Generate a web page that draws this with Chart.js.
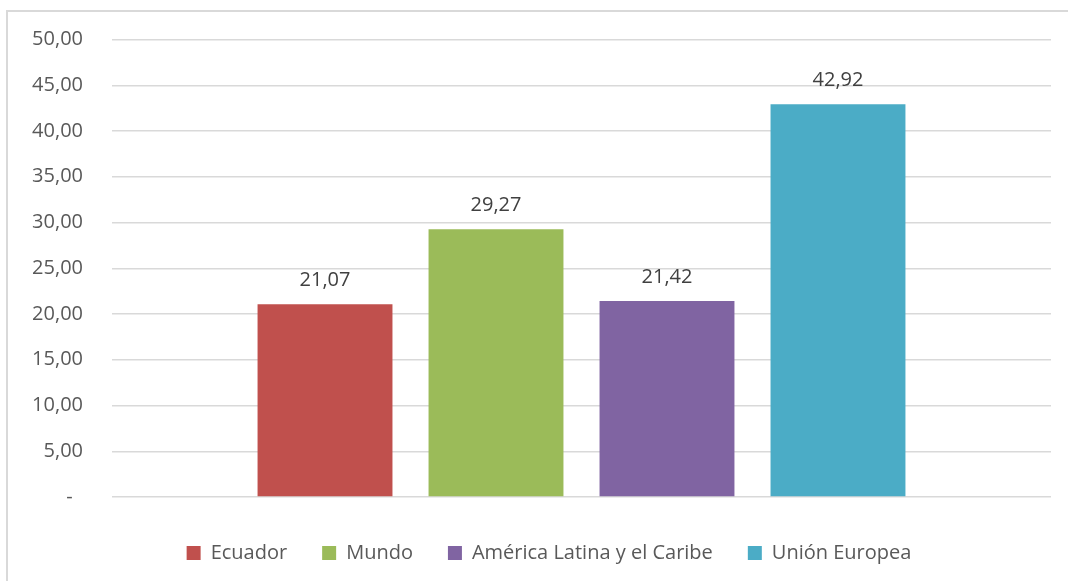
<!DOCTYPE html>
<html>
<head>
<meta charset="utf-8">
<script src="https://cdn.jsdelivr.net/npm/chart.js@4/dist/chart.umd.min.js"></script>
<style>
  html, body { margin: 0; padding: 0; background: #fff; overflow: hidden; width: 1068px; height: 581px; }
  #frame { position: absolute; left: 6px; top: 10px; width: 1086px; height: 600px;
           border-left: 2px solid #d9d9d9; border-top: 2px solid #d9d9d9; }
  #wrap { position: absolute; left: 0; top: 0; width: 1084px; height: 569px; }
</style>
</head>
<body>
<div id="frame"><div id="wrap"><canvas id="chart"></canvas></div></div>
<script>
// data
const categories = [''];
const seriesNames = ['Ecuador', 'Mundo', 'América Latina y el Caribe', 'Unión Europea'];
const seriesValues = [21.07, 29.27, 21.42, 42.92];
const seriesColors = ['#C0504D', '#9BBB59', '#8064A2', '#4BACC6'];

const FONT = '"Open Sans", sans-serif';

function fmt(v) {
    return v.toFixed(2).replace('.', ',');
}

// labels above each bar
const valueLabels = {
    id: 'valueLabels',
    afterDatasetsDraw(chart) {
        const ctx = chart.ctx;
        ctx.save();
        ctx.font = '20px ' + FONT;
        ctx.fillStyle = '#404040';
        ctx.textAlign = 'center';
        ctx.textBaseline = 'alphabetic';
        chart.data.datasets.forEach((ds, i) => {
            chart.getDatasetMeta(i).data.forEach((bar, j) => {
                ctx.fillText(fmt(ds.data[j]), bar.x, bar.y - 18);
            });
        });
        ctx.restore();
    }
};

new Chart(document.getElementById('chart'), {
    type: 'bar',
    data: {
        labels: categories,
        datasets: seriesNames.map((name, i) => ({
            label: name,
            data: [seriesValues[i]],
            backgroundColor: seriesColors[i],
            borderWidth: 0,
            categoryPercentage: 0.7284,
            barPercentage: 0.789
        }))
    },
    options: {
        responsive: true,
        maintainAspectRatio: false,
        animation: false,
        layout: { padding: { left: 0, right: 2, top: 27.5, bottom: 8 } },
        plugins: {
            tooltip: { enabled: false },
            legend: {
                position: 'bottom',
                labels: {
                    boxWidth: 14,
                    boxHeight: 14,
                    padding: 35,
                    color: '#595959',
                    font: { family: FONT, size: 20 }
                }
            }
        },
        scales: {
            x: {
                grid: { display: false },
                border: { display: false },
                ticks: { display: false },
                afterFit(scale) { scale.height = 11; }
            },
            y: {
                min: 0,
                max: 50,
                ticks: {
                    stepSize: 5,
                    padding: 29,
                    color: '#595959',
                    font: { family: FONT, size: 20 },
                    callback: v => v === 0 ? '-  ' : fmt(v)
                },
                grid: { color: '#d9d9d9', lineWidth: 1.5, drawTicks: false },
                border: { display: false },
                afterFit(scale) {
                    scale.width = 104;
                    scale.paddingTop = 0;
                    scale.paddingBottom = 0;
                }
            },
            // empty spacer on the right so the plot ends where the reference does
            spacer: {
                type: 'linear',
                position: 'right',
                grid: { display: false },
                border: { display: false },
                ticks: { display: false },
                afterFit(scale) {
                    scale.width = 39;
                    scale.paddingTop = 0;
                    scale.paddingBottom = 0;
                }
            }
        }
    },
    plugins: [valueLabels]
});
</script>
</body>
</html>
